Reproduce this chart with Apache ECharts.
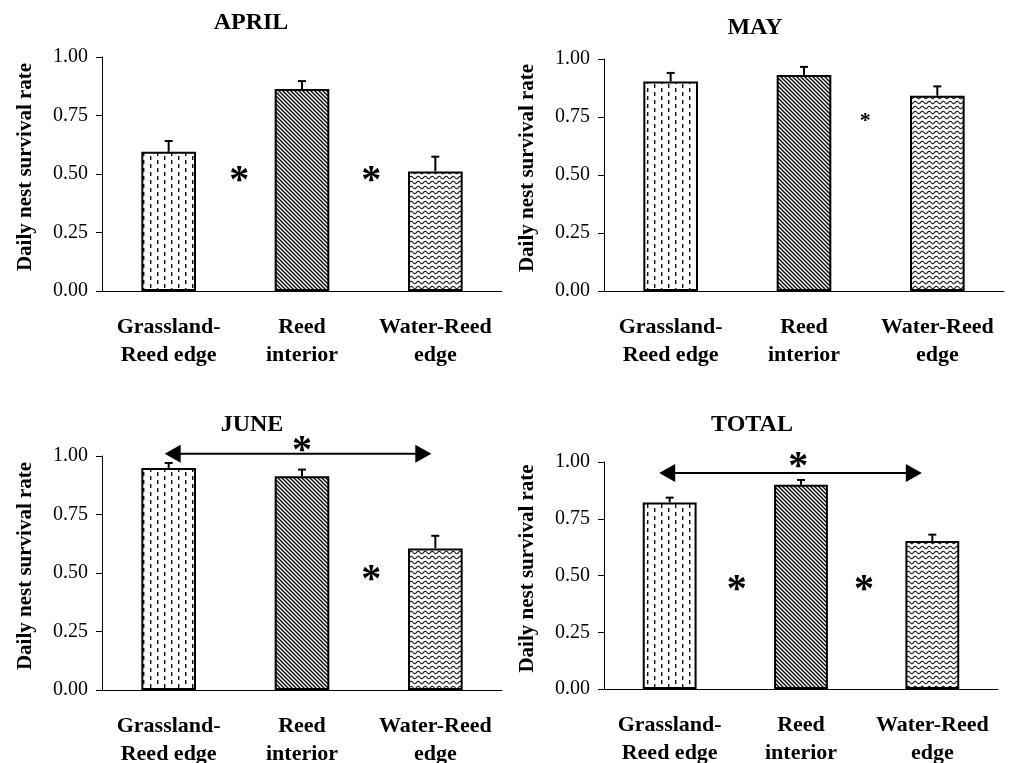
<!DOCTYPE html>
<html>
<head>
<meta charset="utf-8">
<title>Daily nest survival rate</title>
<script src="https://cdn.jsdelivr.net/npm/echarts@6.0.0/dist/echarts.min.js"></script>
<style>
  html, body { margin: 0; padding: 0; background: #fff; }
  #main { width: 1010px; height: 763px; }
</style>
</head>
<body>
<div id="main"></div>
<script>
  var chart = echarts.init(document.getElementById('main'));

  // habitat categories (x axis)
  var categories = ['Grassland-\nReed edge', 'Reed\ninterior', 'Water-Reed\nedge'];
  var panelTitles = ['APRIL', 'MAY', 'JUNE', 'TOTAL'];
  var yTicks = [0, 0.25, 0.5, 0.75, 1];

  // daily nest survival rate, mean and SE (upper error bar only)
  var aprilMean = [0.595, 0.863, 0.511];
  var aprilSE   = [0.046, 0.034, 0.063];
  var mayMean   = [0.903, 0.931, 0.842];
  var maySE     = [0.037, 0.035, 0.040];
  var juneMean  = [0.949, 0.913, 0.605];
  var juneSE    = [0.021, 0.029, 0.054];
  var totalMean = [0.822, 0.900, 0.652];
  var totalSE   = [0.021, 0.021, 0.028];

  // significance asterisks [x (category index), y]
  var aprilStars = [[0.53, 0.50], [1.52, 0.50]];
  var mayStars   = [[1.46, 0.75]];
  var juneStars  = [[1.52, 0.50], [1.00, 1.054]];
  var totalStars = [[0.51, 0.47], [1.48, 0.47], [0.98, 1.01]];

  // double arrows [x from, x to, y]
  var juneArrow  = [[-0.03, 1.97, 1.01]];
  var totalArrow = [[-0.08, 1.92, 0.951]];

  var FONT = '"Liberation Serif", "Times New Roman", serif';

  function makePattern(kind) {
    var c = document.createElement('canvas');
    var ctx = c.getContext('2d');
    if (kind == 'dash') {
      c.width = 14; c.height = 8;
      ctx.fillStyle = '#fff'; ctx.fillRect(0, 0, 14, 8);
      ctx.fillStyle = '#111';
      ctx.fillRect(3, 0, 1.4, 4);
      ctx.fillRect(10, 4, 1.4, 4);
    } else if (kind == 'diag') {
      c.width = 4; c.height = 4;
      ctx.fillStyle = '#fff'; ctx.fillRect(0, 0, 4, 4);
      ctx.strokeStyle = '#111'; ctx.lineWidth = 1.5;
      ctx.beginPath();
      for (var k = -1; k <= 1; k++) {
        ctx.moveTo(k * 4 - 1, -1);
        ctx.lineTo(k * 4 + 5, 5);
      }
      ctx.stroke();
    } else {
      c.width = 7; c.height = 5;
      ctx.fillStyle = '#fff'; ctx.fillRect(0, 0, 7, 5);
      ctx.strokeStyle = '#222'; ctx.lineWidth = 1.1;
      ctx.beginPath();
      for (var x = 0; x <= 7; x += 0.5) {
        var y = 2.5 + 1.2 * Math.sin(2 * Math.PI * x / 7);
        if (x == 0) ctx.moveTo(x, y); else ctx.lineTo(x, y);
      }
      ctx.stroke();
    }
    return { image: c, repeat: 'repeat' };
  }
  var patterns = [makePattern('dash'), makePattern('diag'), makePattern('wave')];

  var panels = [
    { mean: aprilMean, se: aprilSE, stars: aprilStars, arrows: [], starSize: 40 },
    { mean: mayMean, se: maySE, stars: mayStars, arrows: [], starSize: 22 },
    { mean: juneMean, se: juneSE, stars: juneStars, arrows: juneArrow, starSize: 40 },
    { mean: totalMean, se: totalSE, stars: totalStars, arrows: totalArrow, starSize: 40 }
  ];

  var grids = [
    { left: 102, top: 57, width: 400, height: 234 },
    { left: 604, top: 59, width: 400, height: 232 },
    { left: 102, top: 456, width: 400, height: 234 },
    { left: 604, top: 462, width: 394, height: 227 }
  ];
  grids.forEach(function (g) { g.containLabel = false; g.outerBoundsMode = 'none'; });
  var titlePos = [[251, 11], [755, 16], [252, 413], [752, 413]];

  var xAxes = [], yAxes = [], series = [], titles = [];

  panels.forEach(function (p, i) {
    titles.push({
      text: panelTitles[i], left: titlePos[i][0], top: titlePos[i][1],
      textAlign: 'center', padding: 0,
      textStyle: { fontFamily: FONT, fontWeight: 'bold', fontSize: 24, color: '#000' }
    });

    xAxes.push({
      type: 'category', gridIndex: i, data: categories,
      axisLine: { onZero: false, lineStyle: { color: '#000', width: 1 } },
      axisTick: { length: 5, lineStyle: { color: '#000' } },
      axisLabel: {
        interval: 0, margin: 22, color: '#000', fontFamily: FONT,
        fontWeight: 'bold', fontSize: 22, lineHeight: 28
      }
    });
    // hidden linear x axis for error bars, asterisks and arrows
    xAxes.push({ type: 'value', gridIndex: i, min: -0.5, max: 2.5, show: false });

    yAxes.push({
      type: 'value', gridIndex: i,
      min: yTicks[0], max: yTicks[yTicks.length - 1], interval: yTicks[1] - yTicks[0],
      name: 'Daily nest survival rate', nameLocation: 'middle', nameGap: 66,
      nameTextStyle: { fontFamily: FONT, fontWeight: 'bold', fontSize: 21, color: '#000', padding: [0, 0, 0, 14] },
      axisLine: { show: true, onZero: false, lineStyle: { color: '#000', width: 1 } },
      axisTick: { show: true, length: 6, lineStyle: { color: '#000' } },
      splitLine: { show: false },
      axisLabel: {
        margin: 14, color: '#000', fontFamily: FONT, fontSize: 20,
        formatter: function (v) { return v.toFixed(2); }
      }
    });

    series.push({
      type: 'bar', xAxisIndex: 2 * i, yAxisIndex: i, barWidth: '41%', silent: true,
      itemStyle: { borderColor: '#000', borderWidth: 2 },
      data: p.mean.map(function (v, k) {
        return { value: v, itemStyle: { color: patterns[k] } };
      })
    });

    series.push({
      type: 'custom', xAxisIndex: 2 * i + 1, yAxisIndex: i, silent: true, z: 3,
      data: p.mean.map(function (v, k) { return [k, v, p.se[k]]; }),
      renderItem: function (params, api) {
        var base = api.coord([api.value(0), api.value(1)]);
        var top = api.coord([api.value(0), api.value(1) + api.value(2)]);
        return {
          type: 'group', children: [
            { type: 'line', shape: { x1: base[0], y1: base[1], x2: top[0], y2: top[1] },
              style: { stroke: '#000', lineWidth: 2 } },
            { type: 'line', shape: { x1: top[0] - 4, y1: top[1], x2: top[0] + 4, y2: top[1] },
              style: { stroke: '#000', lineWidth: 2 } }
          ]
        };
      }
    });

    series.push({
      type: 'custom', xAxisIndex: 2 * i + 1, yAxisIndex: i, silent: true, z: 4,
      data: p.stars,
      renderItem: function (params, api) {
        var pt = api.coord([api.value(0), api.value(1)]);
        return {
          type: 'text', x: pt[0], y: pt[1] + p.starSize * 0.2,
          style: {
            text: '*', fill: '#000', font: 'bold ' + p.starSize + 'px ' + FONT,
            align: 'center', verticalAlign: 'middle',
            textAlign: 'center', textVerticalAlign: 'middle'
          }
        };
      }
    });

    if (p.arrows.length) {
      series.push({
        type: 'custom', xAxisIndex: 2 * i + 1, yAxisIndex: i, silent: true, z: 4,
        data: p.arrows,
        renderItem: function (params, api) {
          var a = api.coord([api.value(0), api.value(2)]);
          var b = api.coord([api.value(1), api.value(2)]);
          var len = 16, half = 9;
          return {
            type: 'group', children: [
              { type: 'line', shape: { x1: a[0] + 8, y1: a[1], x2: b[0] - 8, y2: b[1] },
                style: { stroke: '#000', lineWidth: 2 } },
              { type: 'polygon', shape: { points: [[a[0], a[1]], [a[0] + len, a[1] - half], [a[0] + len, a[1] + half]] },
                style: { fill: '#000' } },
              { type: 'polygon', shape: { points: [[b[0], b[1]], [b[0] - len, b[1] - half], [b[0] - len, b[1] + half]] },
                style: { fill: '#000' } }
            ]
          };
        }
      });
    }
  });

  chart.setOption({
    backgroundColor: '#fff',
    animation: false,
    title: titles,
    grid: grids,
    xAxis: xAxes,
    yAxis: yAxes,
    series: series
  });
</script>
</body>
</html>
